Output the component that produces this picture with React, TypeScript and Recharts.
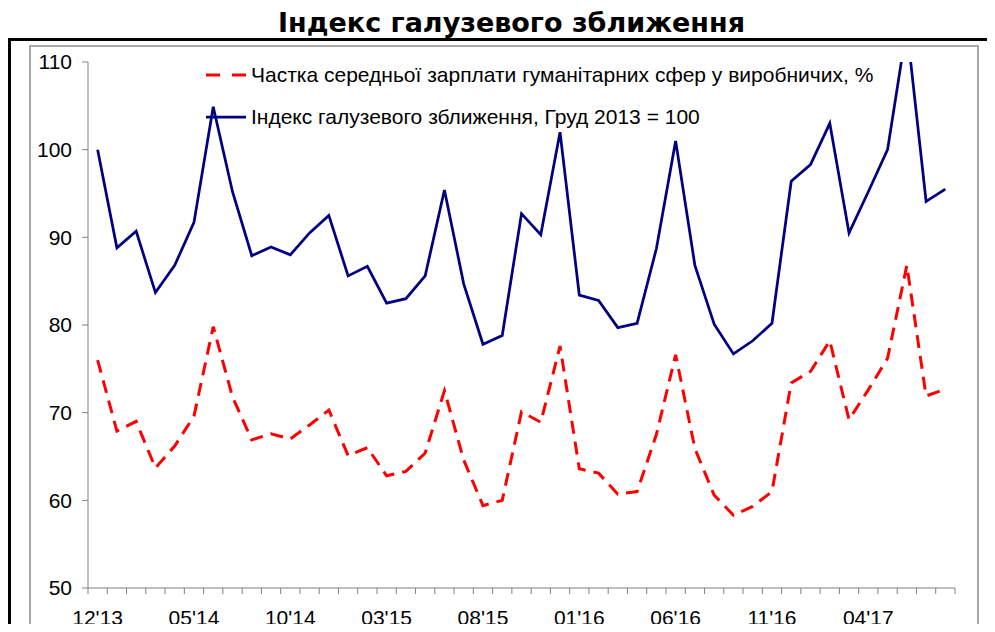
import React from 'react';
import { LineChart, Line, XAxis, YAxis, Legend } from 'recharts';

const months = [
  "12'13",
  "01'14", "02'14", "03'14", "04'14", "05'14", "06'14", "07'14", "08'14", "09'14", "10'14", "11'14", "12'14",
  "01'15", "02'15", "03'15", "04'15", "05'15", "06'15", "07'15", "08'15", "09'15", "10'15", "11'15", "12'15",
  "01'16", "02'16", "03'16", "04'16", "05'16", "06'16", "07'16", "08'16", "09'16", "10'16", "11'16", "12'16",
  "01'17", "02'17", "03'17", "04'17", "05'17", "06'17", "07'17", "08'17",
];

const shareValues = [
  76.0, 67.9, 69.0, 63.7, 66.2, 69.6, 79.8, 71.8, 66.9, 67.6, 67.0, 68.6, 70.3,
  65.1, 66.0, 62.8, 63.3, 65.4, 72.5, 64.6, 59.4, 60.0, 70.1, 68.9, 77.6,
  63.6, 63.1, 60.7, 61.0, 67.5, 76.6, 65.9, 60.6, 58.3, 59.3, 61.0, 73.4,
  74.7, 78.2, 69.2, 72.6, 76.2, 86.8, 71.9, 72.7,
];

const indexValues = [
  100.0, 88.8, 90.7, 83.7, 86.8, 91.7, 104.9, 95.2, 87.9, 88.9, 88.0, 90.5, 92.5,
  85.6, 86.7, 82.5, 83.0, 85.6, 95.4, 84.7, 77.8, 78.8, 92.7, 90.3, 102.0,
  83.4, 82.8, 79.7, 80.2, 88.7, 101.0, 86.8, 80.1, 76.7, 78.2, 80.2, 96.4,
  98.3, 103.0, 90.5, 95.2, 100.0, 114.0, 94.1, 95.5,
];

const yTicks = [50, 60, 70, 80, 90, 100, 110];
const titleText = 'Індекс галузевого зближення';
const shareName = 'Частка середньої зарплати гуманітарних сфер у виробничих, %';
const indexName = 'Індекс галузевого зближення, Груд 2013 = 100';

const data = months.map((m, i) => ({ month: m, share: shareValues[i], index: indexValues[i] }));

const CHART_W = 987;
const CHART_H = 624;
const MARGIN = { top: 54, right: 40, left: 0, bottom: 0 };
const Y_W = 80;
const X_H = 44;
const PLOT_W = CHART_W - MARGIN.left - MARGIN.right - Y_W;
const STEP = PLOT_W / months.length;
const LABEL_EVERY = 5;
const AXIS = '#808080';
const FONT = '"Liberation Sans", Arial, sans-serif';
const FS = 21;
const RED = '#ff0000';
const BLUE = '#000080';
const DASH = '13 8';

function XTick(props: any) {
  const { x, y, payload, index } = props;
  const i = typeof index === 'number' ? index : payload?.index ?? 0;
  const half = STEP / 2;
  return (
    <g>
      <line x1={x - half} x2={x - half} y1={y} y2={y + 6} stroke={AXIS} strokeWidth={1} />
      {i === months.length - 1 && (
        <line x1={x + half} x2={x + half} y1={y} y2={y + 6} stroke={AXIS} strokeWidth={1} />
      )}
      {i % LABEL_EVERY === 0 && (
        <text x={x} y={y + 37} textAnchor="middle" fontSize={FS} fontFamily={FONT} fill="#000">
          {payload.value}
        </text>
      )}
    </g>
  );
}

const legendRows = [
  { name: shareName, color: RED, dash: '14 12', width: 3 },
  { name: indexName, color: BLUE, dash: undefined, width: 2.75 },
];

function LegendContent() {
  return (
    <div style={{ fontFamily: FONT, fontSize: FS, color: '#000' }}>
      {legendRows.map((r) => (
        <div key={r.name} style={{ display: 'flex', alignItems: 'center', height: 42 }}>
          <svg width={45} height={42} style={{ display: 'block', flex: 'none' }}>
            <line x1={0} x2={40} y1={21} y2={21} stroke={r.color} strokeWidth={r.width} strokeDasharray={r.dash} />
          </svg>
          <span style={{ whiteSpace: 'nowrap' }}>{r.name}</span>
        </div>
      ))}
    </div>
  );
}

export default function App() {
  return (
    <div style={{ position: 'relative', width: 987, height: 624, marginBottom: -8, overflow: 'hidden' }}>
      <style>{`html,body{overflow:hidden}`}</style>
      <div
        style={{
          position: 'absolute', left: 0, top: 0, width: 987, paddingLeft: 20, boxSizing: 'border-box', textAlign: 'center',
          fontFamily: '"DejaVu Sans", Verdana, sans-serif', fontWeight: 'bold', fontSize: 27, lineHeight: '29px', color: '#000',
        }}
      >
        {titleText}
      </div>
      <div
        style={{
          position: 'absolute', left: 0, top: 30, width: 1100, height: 700,
          borderTop: '3px solid #000', borderLeft: '3px solid #000', boxSizing: 'border-box',
        }}
      />
      <div
        style={{
          position: 'absolute', left: 21, top: 37, width: 950, height: 586,
          border: '2px solid #a6a6a6', boxSizing: 'border-box', background: '#fff',
        }}
      />
      <div style={{ position: 'absolute', left: 0, top: 0 }}>
        <LineChart width={CHART_W} height={CHART_H} data={data} margin={MARGIN}>
          <XAxis
            dataKey="month"
            height={X_H}
            interval={0}
            padding={{ left: STEP / 2, right: STEP / 2 }}
            tickLine={false}
            tickSize={0}
            tickMargin={0}
            stroke={AXIS}
            tick={<XTick />}
          />
          <YAxis
            width={Y_W}
            domain={[50, 110]}
            ticks={yTicks}
            allowDataOverflow
            interval={0}
            stroke={AXIS}
            tickSize={6}
            tickMargin={10}
            tick={{ fill: '#000', fontSize: FS, fontFamily: FONT }}
          />
          <Legend
            layout="vertical"
            align="center"
            verticalAlign="middle"
            content={<LegendContent />}
            wrapperStyle={{ left: 198, top: 46, width: 760 }}
          />
          <Line
            type="linear"
            dataKey="share"
            name={shareName}
            stroke={RED}
            strokeWidth={3}
            strokeDasharray={DASH}
            dot={false}
            isAnimationActive={false}
          />
          <Line
            type="linear"
            dataKey="index"
            name={indexName}
            stroke={BLUE}
            strokeWidth={2.75}
            dot={false}
            isAnimationActive={false}
          />
        </LineChart>
      </div>
    </div>
  );
}
